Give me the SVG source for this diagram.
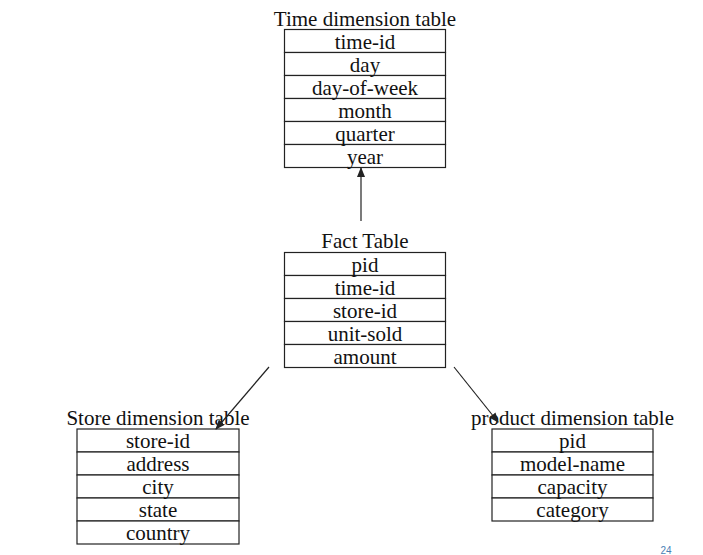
<svg xmlns="http://www.w3.org/2000/svg" width="703" height="555" viewBox="0 0 703 555">
<style>
.t{font-family:"Liberation Serif","Times New Roman",serif;font-size:21px;fill:#111;text-anchor:middle}
.r{fill:#fff;stroke:#222;stroke-width:1.2}
.c{stroke:#222;stroke-width:1.2;fill:none}
</style>
<defs>
<marker id="ah" markerWidth="10" markerHeight="8" refX="9" refY="4" orient="auto" markerUnits="userSpaceOnUse">
<path d="M0,0 L10,4 L0,8 Z" fill="#222"/>
</marker>
</defs>
<rect width="703" height="555" fill="#fff"/>
<g id="time">
<text class="t" x="365" y="26">Time dimension table</text>
<rect class="r" x="284.5" y="29.5" width="161" height="23"/>
<rect class="r" x="284.5" y="52.5" width="161" height="23"/>
<rect class="r" x="284.5" y="75.5" width="161" height="23"/>
<rect class="r" x="284.5" y="98.5" width="161" height="23"/>
<rect class="r" x="284.5" y="121.5" width="161" height="23"/>
<rect class="r" x="284.5" y="144.5" width="161" height="23"/>
<text class="t" x="365" y="48.5">time-id</text>
<text class="t" x="365" y="71.5">day</text>
<text class="t" x="365" y="94.5">day-of-week</text>
<text class="t" x="365" y="117.5">month</text>
<text class="t" x="365" y="140.5">quarter</text>
<text class="t" x="365" y="163.5">year</text>
</g>
<g id="fact">
<text class="t" x="365" y="248">Fact Table</text>
<rect class="r" x="284.5" y="252.5" width="161" height="23"/>
<rect class="r" x="284.5" y="275.5" width="161" height="23"/>
<rect class="r" x="284.5" y="298.5" width="161" height="23"/>
<rect class="r" x="284.5" y="321.5" width="161" height="23"/>
<rect class="r" x="284.5" y="344.5" width="161" height="23"/>
<text class="t" x="365" y="271.5">pid</text>
<text class="t" x="365" y="294.5">time-id</text>
<text class="t" x="365" y="317.5">store-id</text>
<text class="t" x="365" y="340.5">unit-sold</text>
<text class="t" x="365" y="363.5">amount</text>
</g>
<g id="store">
<text class="t" x="158" y="425">Store dimension table</text>
<rect class="r" x="77" y="429" width="162" height="23"/>
<rect class="r" x="77" y="452" width="162" height="23"/>
<rect class="r" x="77" y="475" width="162" height="23"/>
<rect class="r" x="77" y="498" width="162" height="23"/>
<rect class="r" x="77" y="521" width="162" height="23"/>
<text class="t" x="158" y="448">store-id</text>
<text class="t" x="158" y="471">address</text>
<text class="t" x="158" y="494">city</text>
<text class="t" x="158" y="517">state</text>
<text class="t" x="158" y="540">country</text>
</g>
<g id="product">
<text class="t" x="572.5" y="425">product dimension table</text>
<rect class="r" x="492" y="429" width="161" height="23"/>
<rect class="r" x="492" y="452" width="161" height="23"/>
<rect class="r" x="492" y="475" width="161" height="23"/>
<rect class="r" x="492" y="498" width="161" height="23"/>
<text class="t" x="572.5" y="448">pid</text>
<text class="t" x="572.5" y="471">model-name</text>
<text class="t" x="572.5" y="494">capacity</text>
<text class="t" x="572.5" y="517">category</text>
</g>
<g id="connectors">
<line class="c" x1="361" y1="221" x2="361" y2="168" marker-end="url(#ah)"/>
<line class="c" x1="269" y1="367" x2="216" y2="429" marker-end="url(#ah)"/>
<line class="c" x1="454" y1="367" x2="498" y2="422" marker-end="url(#ah)"/>
</g>
<text x="666" y="554" style="font-family:'Liberation Sans',Arial,sans-serif;font-size:10px;fill:#4a7fb5;text-anchor:middle">24</text>
</svg>
